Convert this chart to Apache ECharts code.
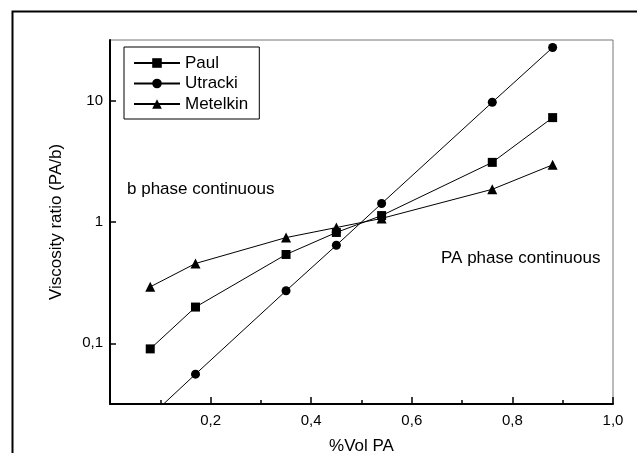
<!DOCTYPE html>
<html>
<head>
<meta charset="utf-8">
<script src="https://cdn.jsdelivr.net/npm/echarts@6/dist/echarts.min.js"></script>
<style>html,body{margin:0;padding:0;background:#fff;overflow:hidden;}#c{width:637px;height:453px;}</style>
</head>
<body>
<div id="c"></div>
<script>
// Data
const volPA = [0.08, 0.17, 0.35, 0.45, 0.54, 0.76, 0.88];
const paul = [0.090, 0.199, 0.54, 0.82, 1.13, 3.1, 7.25];
const utracki = [0.025, 0.0557, 0.271, 0.643, 1.42, 9.7, 27.4];
const metelkin = [0.292, 0.455, 0.744, 0.90, 1.07, 1.86, 2.96];
const seriesNames = ['Paul', 'Utracki', 'Metelkin'];
const xTicks = [0.2, 0.4, 0.6, 0.8, 1.0];
const yTicks = [0.1, 1, 10];

const FONT = '"Liberation Sans", Arial, sans-serif';
const pairs = arr => volPA.map((x, i) => [x, arr[i]]);
const isTick = (v, ticks) => ticks.some(t => Math.abs(Math.log10(v) - Math.log10(t)) < 1e-6);

const chart = echarts.init(document.getElementById('c'), null, {renderer: 'canvas'});
const mk = (name, data, symbol) => ({
  name, type: 'line', data: pairs(data), symbol, symbolSize: symbol === 'triangle' ? 10 : 9,
  showAllSymbol: true, clip: true, animation: false,
  lineStyle: {color: '#000', width: 1},
  itemStyle: {color: '#000'},
  emphasis: {disabled: true}
});

chart.setOption({
  animation: false,
  textStyle: {fontFamily: FONT},
  grid: {left: 110, top: 40, right: 24, bottom: 49, outerBoundsMode: 'none', containLabel: false,
    show: true, borderColor: '#777', borderWidth: 1, backgroundColor: 'transparent'},
  legend: {
    orient: 'vertical', left: 124, top: 47,
    padding: [7.5, 11, 6.5, 9],
    itemWidth: 46, itemHeight: 12, itemGap: 3.5,
    borderColor: '#000', borderWidth: 1, borderRadius: 0,
    textStyle: {fontFamily: FONT, fontSize: 17, color: '#000'},
    data: seriesNames
  },
  xAxis: {
    type: 'value', min: 0, max: 1, interval: 0.2,
    name: '%Vol PA', nameLocation: 'middle', nameGap: 34,
    nameTextStyle: {fontFamily: FONT, fontSize: 17, color: '#000'},
    axisLine: {show: true, lineStyle: {color: '#000', width: 2}},
    axisTick: {show: true, inside: true, length: 7, lineStyle: {color: '#000', width: 1.5}},
    minorTick: {show: true, splitNumber: 2, length: 4, lineStyle: {color: '#000', width: 1.5}},
    splitLine: {show: false},
    axisLabel: {fontFamily: FONT, fontSize: 15, color: '#000', margin: 9,
      formatter: v => (xTicks.some(t => Math.abs(t - v) < 1e-9) ? Number(v).toFixed(1).replace('.', ',') : '')}
  },
  yAxis: {
    type: 'log', logBase: 10, min: Math.pow(10, -1.5), max: Math.pow(10, 1.5),
    name: 'Viscosity ratio (PA/b)', nameLocation: 'middle', nameGap: 45,
    nameTextStyle: {fontFamily: FONT, fontSize: 17, color: '#000'},
    axisLine: {show: true, lineStyle: {color: '#000', width: 2}},
    axisTick: {show: true, inside: true, length: 6, lineStyle: {color: '#000', width: 1.5}},
    splitLine: {show: false},
    minorTick: {show: false},
    axisLabel: {fontFamily: FONT, fontSize: 15, color: '#000', margin: 7,
      showMinLabel: false, showMaxLabel: false,
      formatter: v => (isTick(v, yTicks) ? String(Number(Number(v).toPrecision(3))).replace('.', ',') : '')}
  },
  graphic: [
    {type: 'rect', left: 10, top: 9, silent: true, z: 100,
      shape: {x: 0, y: 0, width: 700, height: 600},
      style: {fill: 'none', stroke: '#000', lineWidth: 2}},
    {type: 'text', left: 127, top: 181, silent: true,
      style: {text: 'b phase continuous', font: '17px ' + FONT, fill: '#000'}},
    {type: 'text', left: 441, top: 250, silent: true,
      style: {text: 'PA phase continuous', font: '17px ' + FONT, fill: '#000'}}
  ],
  series: [
    mk('Paul', paul, 'rect'),
    mk('Utracki', utracki, 'circle'),
    mk('Metelkin', metelkin, 'triangle')
  ]
});
</script>
</body>
</html>
